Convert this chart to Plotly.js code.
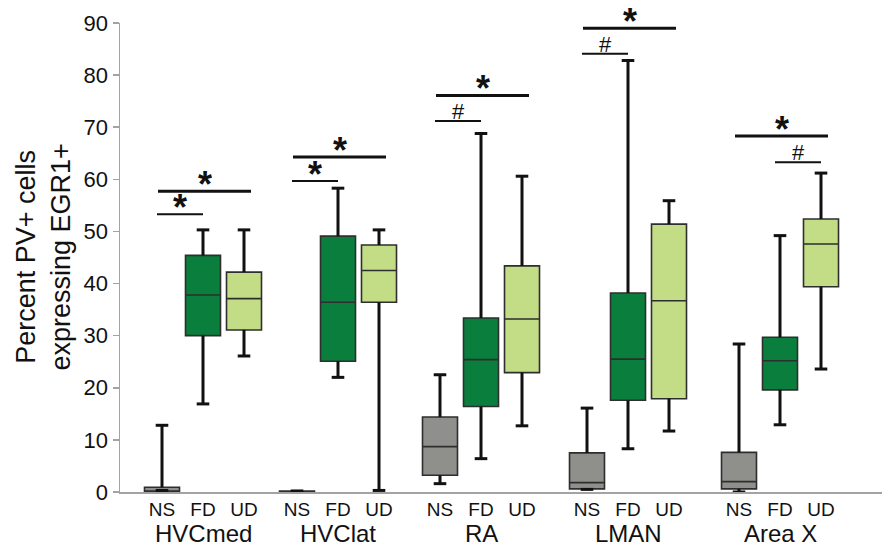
<!DOCTYPE html>
<html>
<head>
<meta charset="utf-8">
<script src="https://cdn.plot.ly/plotly-3.0.1.min.js"></script>
<style>html,body{margin:0;padding:0;background:#fff;}#chart{width:888px;height:546px;}</style>
</head>
<body>
<div id="chart"></div>
<script>
// ---- data ----
var regions = ["HVCmed", "HVClat", "RA", "LMAN", "Area X"];
var conditions = ["NS", "FD", "UD"];
// per region: [NS, FD, UD]
var lowerWhisker = [[0.3, 16.9, 26.1], [0, 22.0, 0.3], [1.6, 6.4, 12.7], [0.5, 8.3, 11.7], [0, 12.9, 23.6]];
var q1Values     = [[0, 30.0, 31.1], [0, 25.1, 36.4], [3.2, 16.4, 22.9], [0.6, 17.6, 17.9], [0.6, 19.6, 39.4]];
var medianValues = [[0.2, 37.8, 37.1], [0.1, 36.4, 42.5], [8.7, 25.4, 33.2], [1.8, 25.5, 36.7], [2.0, 25.2, 47.6]];
var q3Values     = [[0.9, 45.4, 42.2], [0.2, 49.1, 47.4], [14.4, 33.4, 43.4], [7.5, 38.2, 51.4], [7.6, 29.7, 52.4]];
var upperWhisker = [[12.8, 50.3, 50.3], [0.2, 58.3, 50.3], [22.5, 68.8, 60.6], [16.1, 82.8, 55.9], [28.4, 49.2, 61.2]];
// significance brackets: region index, from condition, to condition, height, label
var sigRegion = [0, 0, 1, 1, 2, 2, 3, 3, 4, 4];
var sigFrom   = [0, 0, 0, 0, 0, 0, 0, 0, 0, 1];
var sigTo     = [2, 1, 2, 1, 2, 1, 2, 1, 2, 2];
var sigHeight = [57.7, 53.3, 64.3, 59.7, 76.1, 71.2, 89.0, 84.1, 68.3, 63.3];
var sigLabel  = ["*", "*", "*", "*", "*", "#", "*", "#", "*", "#"];

// ---- layout constants ----
var groupCenters = [203, 338, 481, 628, 780];
var offsets = [-41, 0, 41];
var boxWidth = 35;
var colors = ["#8f8f8c", "#0a7e3c", "#c3dd87"];
var FONT = "Liberation Sans, Arial, sans-serif";

var traces = [];
var tickVals = [], tickText = [];
var whiskX = [], whiskY = [], capX = [], capY = [];
for (var g = 0; g < regions.length; g++) {
  for (var c = 0; c < conditions.length; c++) {
    var px = groupCenters[g] + offsets[c];
    tickVals.push(px); tickText.push(conditions[c]);
    traces.push({
      type: "box", x: [px],
      q1: [q1Values[g][c]], median: [medianValues[g][c]], q3: [q3Values[g][c]],
      lowerfence: [lowerWhisker[g][c]], upperfence: [upperWhisker[g][c]],
      width: boxWidth, whiskerwidth: 0, boxpoints: false,
      fillcolor: colors[c], line: {color: "#2e2e2e", width: 1.6},
      hoverinfo: "skip", showlegend: false
    });
    whiskX.push(px, px, null, px, px, null);
    whiskY.push(q3Values[g][c], upperWhisker[g][c], null, q1Values[g][c], lowerWhisker[g][c], null);
    capX.push(px, px);
    capY.push(upperWhisker[g][c], lowerWhisker[g][c]);
  }
}
traces.push({type: "scatter", mode: "lines", x: whiskX, y: whiskY, line: {color: "#111", width: 3},
  hoverinfo: "skip", showlegend: false, cliponaxis: false});
traces.push({type: "scatter", mode: "markers", x: capX, y: capY,
  marker: {symbol: "line-ew", size: 9, line: {color: "#111", width: 3}},
  hoverinfo: "skip", showlegend: false, cliponaxis: false});

var shapes = [], annotations = [];
for (var i = 0; i < sigRegion.length; i++) {
  var isWide = (sigTo[i] - sigFrom[i]) === 2;
  var x0 = groupCenters[sigRegion[i]] + offsets[sigFrom[i]] - (isWide ? 4 : 5);
  var x1 = groupCenters[sigRegion[i]] + offsets[sigTo[i]] + (isWide ? 7 : 0);
  shapes.push({type: "line", xref: "x", yref: "y", x0: x0, x1: x1, y0: sigHeight[i], y1: sigHeight[i],
    line: {color: "#111", width: isWide ? 3 : 2}});
  var isStar = sigLabel[i] === "*";
  annotations.push({xref: "x", yref: "y", x: (x0 + x1) / 2, y: sigHeight[i],
    text: isStar ? "<b>*</b>" : "#", showarrow: false, yanchor: "bottom",
    yshift: isStar ? -16 : -5,
    font: {family: FONT, size: isStar ? 36 : 22, color: "#111"}});
}
for (var g2 = 0; g2 < regions.length; g2++) {
  annotations.push({xref: "x", yref: "paper", x: groupCenters[g2], y: -0.0885, yanchor: "middle",
    text: regions[g2], showarrow: false, font: {family: FONT, size: 24, color: "#111"}});
}
annotations.push({xref: "paper", yref: "paper", x: -0.101, y: 0.5, xanchor: "center", yanchor: "middle",
  textangle: -90, showarrow: false, text: "Percent PV+ cells<br>expressing EGR1+",
  font: {family: FONT, size: 27, color: "#111"}});

var layout = {
  width: 888, height: 546,
  margin: {l: 120, r: 6, t: 22.7, b: 53.5},
  paper_bgcolor: "#fff", plot_bgcolor: "#fff",
  showlegend: false,
  xaxis: {range: [120, 882], tickvals: tickVals, ticktext: tickText, ticks: "", showgrid: false,
    zeroline: false, showline: true, linecolor: "#a3a3a3", linewidth: 1.5,
    tickfont: {family: FONT, size: 19, color: "#111"}, ticklabelstandoff: 0, fixedrange: true},
  yaxis: {range: [0, 90], tickvals: [0, 10, 20, 30, 40, 50, 60, 70, 80, 90], ticks: "outside", ticklen: 6,
    tickcolor: "#a3a3a3", tickwidth: 1.5, showgrid: false, zeroline: false, showline: true,
    linecolor: "#a3a3a3", linewidth: 1.5, tickfont: {family: FONT, size: 22, color: "#111"}, fixedrange: true},
  shapes: shapes, annotations: annotations
};
Plotly.newPlot("chart", traces, layout, {staticPlot: true});
</script>
</body>
</html>
